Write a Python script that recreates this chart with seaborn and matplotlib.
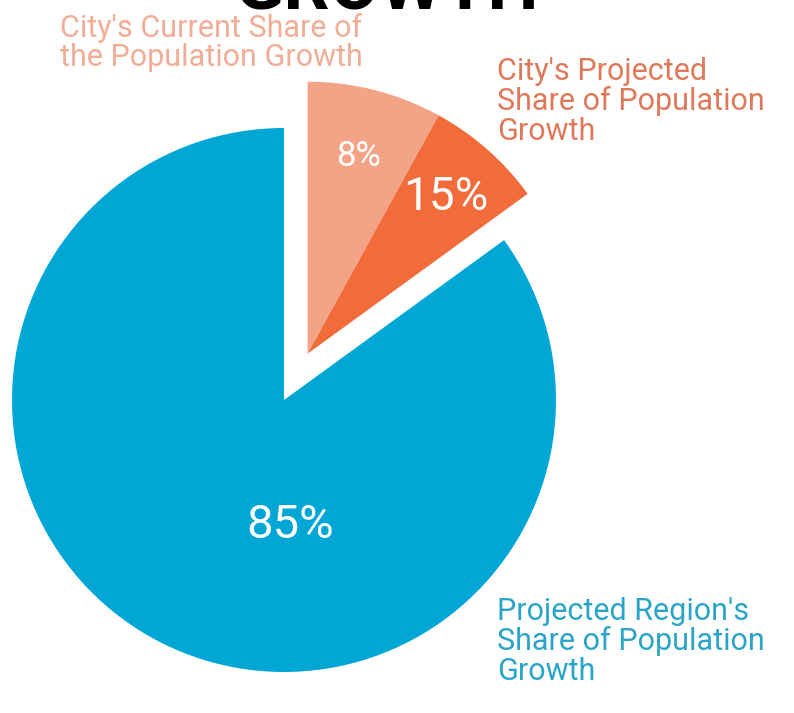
import numpy as np
import matplotlib
matplotlib.use("Agg")
import matplotlib.pyplot as plt
import seaborn as sns

# ---- data ----
categories = ["City's Current Share", "City's Projected Share (extra)", "Projected Region's Share"]
slice_values = [8, 7, 85]
display_labels = ["8%", "15%", "85%"]
outer_labels = ["City's Current Share of\nthe Population Growth",
                "City's Projected\nShare of Population\nGrowth",
                "Projected Region's\nShare of Population\nGrowth"]
colors = ["#f4a486", "#f26b3a", "#00a6d4"]
label_colors = ["#f2ad96", "#e0795a", "#2aa5c9"]

sns.set_theme(style="white")
plt.rcParams['font.family'] = ['Roboto', 'DejaVu Sans']

W, H = 794, 713
fig = plt.figure(figsize=(W / 100, H / 100), dpi=100)
ax = fig.add_axes([0, 0, 1, 1])

cx, cy, R = 284, H - 400, 272
offset = 52
wedges, _ = ax.pie(slice_values, colors=colors, startangle=90, counterclock=False,
                   radius=R, center=(cx, cy),
                   wedgeprops=dict(linewidth=0), frame=True)
ax.set_xlim(0, W)
ax.set_ylim(0, H)
ax.set_aspect('equal')
ax.axis('off')

# explode the two city wedges together, along the combined wedge's mid-angle
t1 = min(wedges[0].theta1, wedges[1].theta1)
t2 = max(wedges[0].theta2, wedges[1].theta2)
tm = np.deg2rad((t1 + t2) / 2)
shift = np.array([np.cos(tm), np.sin(tm)]) * offset
for w in wedges[:2]:
    w.set_center(np.array(w.center) + shift)

def wedge_point(w, frac):
    c = w.center
    t = np.deg2rad((w.theta1 + w.theta2) / 2)
    return c[0] + frac * w.r * np.cos(t), c[1] + frac * w.r * np.sin(t)

# 8%
x, y = wedge_point(wedges[0], 0.75)
ax.text(x, y, display_labels[0], color="white", fontsize=25, ha='center', va='center')
# 15% over the orange part
x, y = wedge_point(wedges[1], 0.77)
ax.text(x, y, display_labels[1], color="white", fontsize=33, ha='center', va='center')
# 85%
ax.text(cx + 6, cy - 125, display_labels[2], color="white", fontsize=34, ha='center', va='center')

# outer labels
ax.text(60, H - 13, outer_labels[0], color=label_colors[0], fontsize=22, ha='left', va='top',
        linespacing=1.0)
ax.text(497, H - 57, outer_labels[1], color=label_colors[1], fontsize=22, ha='left', va='top',
        linespacing=1.02)
ax.text(497, H - 597, outer_labels[2], color=label_colors[2], fontsize=22, ha='left', va='top',
        linespacing=1.02)

# cut-off title at top edge
fig.text(0.487, 1 - 9 / H, "GROWTH", color="black", fontsize=52, fontweight='bold',
         ha='center', va='baseline')

fig.savefig("out.png", dpi=100, facecolor="white")
